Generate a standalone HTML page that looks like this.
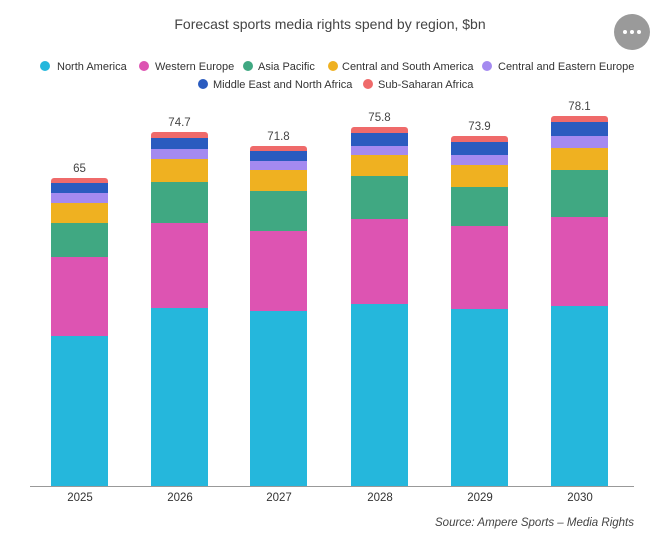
<!DOCTYPE html>
<html><head><style>
body{margin:0;width:660px;height:537px;background:#fff;font-family:"Liberation Sans",sans-serif;overflow:hidden}
</style></head><body>
<svg width="660" height="537" xmlns="http://www.w3.org/2000/svg" font-family="Liberation Sans, sans-serif">
<text x="330" y="29" font-size="14" fill="#444" text-anchor="middle">Forecast sports media rights spend by region, $bn</text>
<circle cx="632" cy="32" r="18" fill="#9a9a9a"/>
<circle cx="625" cy="32" r="2" fill="#fff"/><circle cx="632" cy="32" r="2" fill="#fff"/><circle cx="639" cy="32" r="2" fill="#fff"/>
<g font-size="11" fill="#333">
<circle cx="45" cy="66" r="5" fill="#25b7dc"/><text x="57" y="70">North America</text>
<circle cx="144" cy="66" r="5" fill="#dd54b2"/><text x="155" y="70">Western Europe</text>
<circle cx="248" cy="66" r="5" fill="#40a882"/><text x="258" y="70">Asia Pacific</text>
<circle cx="333" cy="66" r="5" fill="#efb121"/><text x="342" y="70">Central and South America</text>
<circle cx="487" cy="66" r="5" fill="#a48af0"/><text x="498" y="70">Central and Eastern Europe</text>
<circle cx="203" cy="84" r="5" fill="#2a5bbf"/><text x="213" y="88">Middle East and North Africa</text>
<circle cx="368" cy="84" r="5" fill="#ef6a6a"/><text x="378" y="88">Sub-Saharan Africa</text>
</g>
<g id="bars"></g>
<line x1="30" y1="486.5" x2="634" y2="486.5" stroke="#999" stroke-width="1"/>
<g font-size="11.5" fill="#333" text-anchor="middle">
<text x="80" y="501">2025</text><text x="180" y="501">2026</text><text x="279" y="501">2027</text>
<text x="380" y="501">2028</text><text x="480" y="501">2029</text><text x="580" y="501">2030</text>
</g>
<text x="634" y="526" font-size="11.5" font-style="italic" fill="#444" text-anchor="end">Source:  Ampere Sports – Media Rights</text>
</svg>
<script>
const cols=["#ef6a6a","#2a5bbf","#a48af0","#efb121","#40a882","#dd54b2","#25b7dc"];
const data=[
[51,"65",[178,183,193,203,223,257,336,486]],
[151,"74.7",[132,138,149,159,182,223,308,486]],
[250,"71.8",[146,151,161,170,191,231,311,486]],
[351,"75.8",[127,133,146,155,176,219,304,486]],
[451,"73.9",[136,142,155,165,187,226,309,486]],
[551,"78.1",[116,122,136,148,170,217,306,486]]];
const g=document.getElementById("bars");let s="";
for(const [x,l,b] of data){
 s+=`<clipPath id="c${x}"><rect x="${x}" y="${b[0]}" width="57" height="${486-b[0]+5}" rx="3"/></clipPath><g clip-path="url(#c${x})">`;
 for(let i=0;i<7;i++)s+=`<rect x="${x}" y="${b[i]}" width="57" height="${b[i+1]-b[i]}" fill="${cols[i]}"/>`;
 s+=`</g><text x="${x+28.5}" y="${b[0]-6}" font-size="11.5" fill="#444" text-anchor="middle">${l}</text>`;
}
g.innerHTML=s;
</script>
</body></html>
